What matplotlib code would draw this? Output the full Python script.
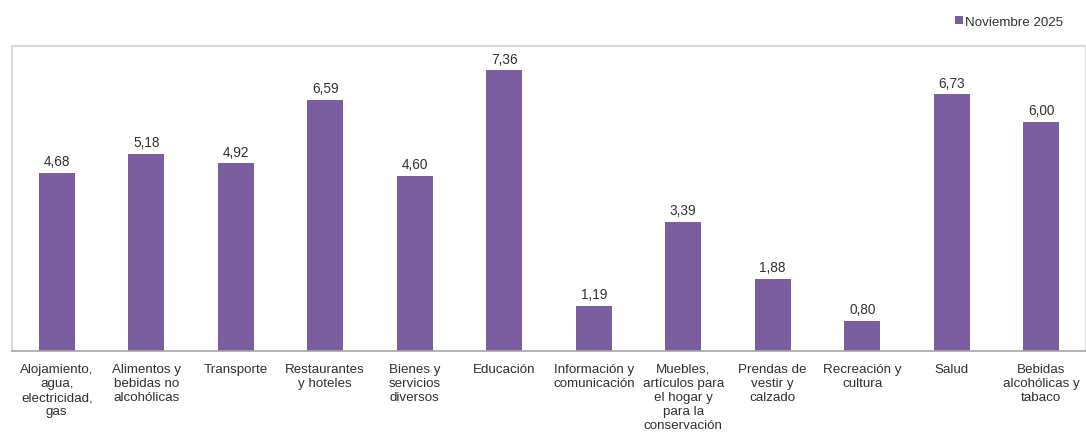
import matplotlib
matplotlib.use("Agg")
import matplotlib.pyplot as plt

categories = [
    "Alojamiento,\nagua,\nelectricidad,\ngas",
    "Alimentos y\nbebidas no\nalcohólicas",
    "Transporte",
    "Restaurantes\ny hoteles",
    "Bienes y\nservicios\ndiversos",
    "Educación",
    "Información y\ncomunicación",
    "Muebles,\nartículos para\nel hogar y\npara la\nconservación",
    "Prendas de\nvestir y\ncalzado",
    "Recreación y\ncultura",
    "Salud",
    "Bebidas\nalcohólicas y\ntabaco",
]
values = [4.68, 5.18, 4.92, 6.59, 4.60, 7.36, 1.19, 3.39, 1.88, 0.80, 6.73, 6.00]
series_name = "Noviembre 2025"

plt.rcParams['font.family'] = ['Liberation Sans', 'DejaVu Sans']
color = "#7B5E9F"

fig = plt.figure(figsize=(10.86, 4.39), dpi=100)
ax = fig.add_axes([12/1086, 1-352/439, 1074/1086, (352-47)/439])

x = list(range(len(values)))
bars = ax.bar(x, values, width=0.40, color=color, label=series_name, zorder=2)
for xi, v in zip(x, values):
    ax.annotate(f"{v:.2f}".replace(".", ","), (xi, v), xytext=(0, 3.5),
                textcoords="offset points", ha="center", va="bottom",
                fontsize=9.8, color="#303030")

ax.set_xlim(-0.5, len(values) - 0.5)
ax.set_ylim(0, 8)
ax.set_yticks([])
ax.set_xticks(x)
ax.set_xticklabels(categories, fontsize=9.6, color="#303030", linespacing=1.24)
ax.tick_params(axis="x", length=0, pad=8.5)

for s in ["left", "top", "right"]:
    ax.spines[s].set_color("#d9d9d9")
    ax.spines[s].set_linewidth(1.5)
ax.spines["bottom"].set_color("#a6a6a6")
ax.spines["bottom"].set_linewidth(1.2)

leg = fig.legend(handles=[bars], labels=[series_name], loc="upper right",
                 bbox_to_anchor=(1070/1086, 1-10/439), frameon=False,
                 fontsize=9.6, handlelength=0.55, handleheight=0.55,
                 handletextpad=0.2, borderpad=0, labelcolor="#303030")

fig.savefig("out.png", dpi=100)
